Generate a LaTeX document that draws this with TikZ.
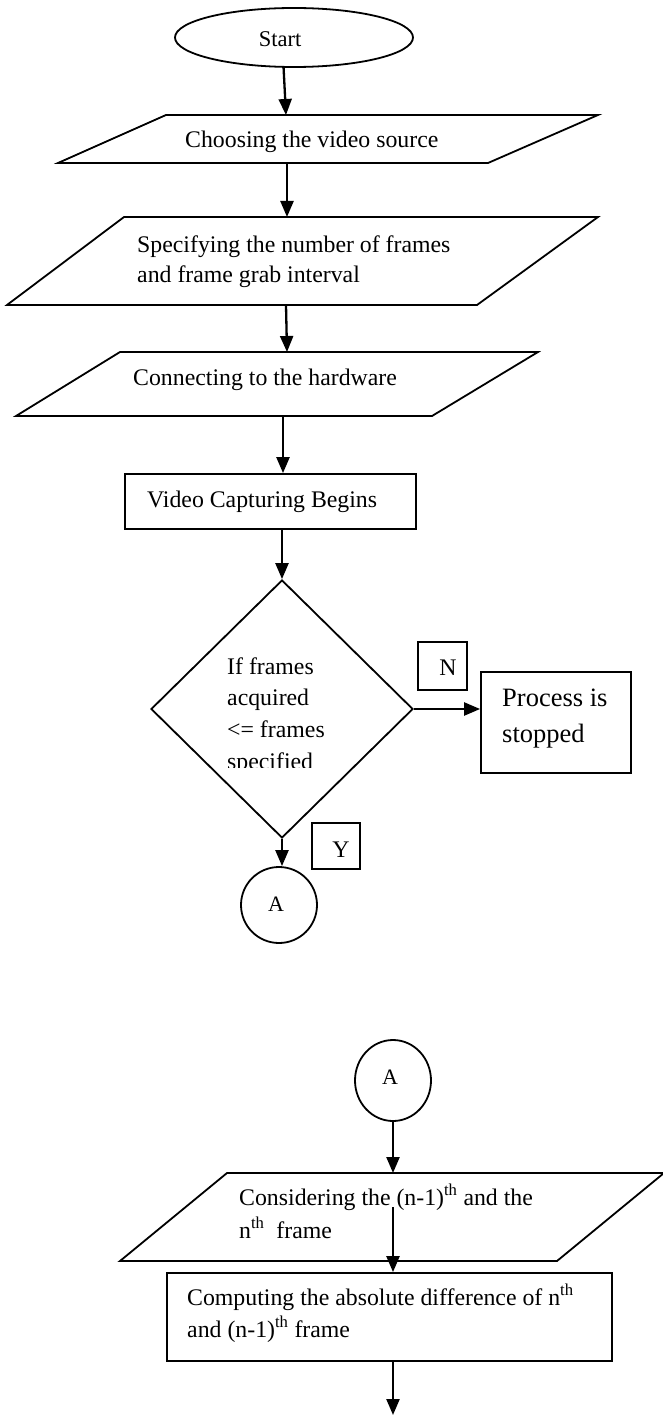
\documentclass[tikz,border=0pt]{standalone}
\usepackage{fontspec}
\setmainfont{Liberation Serif}
\usetikzlibrary{arrows.meta,shapes.geometric}
\begin{document}
\begin{tikzpicture}[x=1pt,y={(0pt,-1pt)},
  shp/.style={draw=black, line width=1.8pt, inner sep=0pt},
  arr/.style={draw=black, line width=2.3pt, -{Triangle[length=16pt,width=13pt]}},
  txt/.style={inner sep=0pt, anchor=base west, font=\fontsize{23.8}{30}\selectfont},
  bigtxt/.style={inner sep=0pt, anchor=base west, font=\fontsize{26.5}{33}\selectfont},
  ctxt/.style={inner sep=0pt, anchor=base, font=\fontsize{23.8}{30}\selectfont}]
\useasboundingbox (0,0) rectangle (663,1415);

% Start
\node[shp, ellipse, minimum width=238pt, minimum height=59pt] (start) at (294,37.5) {};
\node[ctxt, font=\fontsize{22.5}{26}\selectfont] (tstart) at (280,47) {Start};

% Choosing the video source
\draw[shp] (166,115) -- (598,115) -- (488,163) -- (58,163) -- cycle;
\coordinate (p1top) at (286,115);
\coordinate (p1bot) at (287,163);
\node[txt] (t1) at (185,148) {Choosing the video source};

% Specifying
\draw[shp] (124,217) -- (598,217) -- (477,305) -- (7,305) -- cycle;
\coordinate (p2top) at (287,217);
\coordinate (p2bot) at (286,305);
\node[txt] (t2a) at (137,252) {Specifying the number of frames};
\node[txt] (t2b) at (137,282) {and frame grab interval};

% Connecting
\draw[shp] (120,352) -- (538,352) -- (432,416) -- (16,416) -- cycle;
\coordinate (p3top) at (287,352);
\coordinate (p3bot) at (283,416);
\node[txt] (t3) at (133,385) {Connecting to the hardware};

% Video Capturing Begins
\node[shp, rectangle, minimum width=291pt, minimum height=55pt] (video) at (270.5,501.5) {};
\node[txt] (t4) at (147,507) {Video Capturing Begins};

% Decision
\node[shp, diamond, minimum width=262pt, minimum height=258pt] (dia) at (282,709) {};
\node[txt] (d1) at (227,674) {If frames};
\node[txt] (d2) at (227,705) {acquired};
\node[txt] (d3) at (227,737) {<= frames};
\begin{scope}
  \clip (200,740) rectangle (400,767);
  \node[txt] (d4) at (227,769) {specified};
\end{scope}

% N label and Process is stopped
\node[shp, rectangle, minimum width=49pt, minimum height=48pt] (nbox) at (442.5,666) {};
\node[ctxt] (tn) at (448,675) {N};
\node[shp, rectangle, minimum width=150pt, minimum height=101pt] (proc) at (556,722.5) {};
\node[bigtxt] (tp1) at (502,706) {Process is};
\node[bigtxt] (tp2) at (502,742) {stopped};

% Y label and connector A
\node[shp, rectangle, minimum width=48pt, minimum height=46pt] (ybox) at (336,846) {};
\node[ctxt] (ty) at (341,857) {Y};
\node[shp, ellipse, minimum width=76pt, minimum height=76pt] (a1) at (279,905) {};
\node[ctxt, font=\fontsize{22}{25}\selectfont] (ta1) at (276,911) {A};

% Second part
\node[shp, ellipse, minimum width=76pt, minimum height=81pt] (a2) at (393,1080.5) {};
\node[ctxt, font=\fontsize{22}{25}\selectfont] (ta2) at (390,1084) {A};

\draw[shp] (227,1173) -- (664,1173) -- (557,1261) -- (120,1261) -- cycle;
\coordinate (p4top) at (393,1173);
\coordinate (p4in) at (393,1207);
\node[txt] (t5a) at (239,1205) {Considering the (n-1)\textsuperscript{th} and the};
\node[txt] (t5b) at (239,1238) {n\textsuperscript{th}\ \ frame};

\node[shp, rectangle, minimum width=445pt, minimum height=88pt] (comp) at (389.5,1317) {};
\node[txt] (t6a) at (187,1305) {Computing the absolute difference of n\textsuperscript{th}};
\node[txt] (t6b) at (187,1337) {and (n-1)\textsuperscript{th} frame};
\coordinate (endpt) at (393,1415);

% Connectors
\draw[arr] (start.251) -- (p1top);
\draw[arr] (p1bot) -- (p2top);
\draw[arr] (p2bot) -- (p3top);
\draw[arr] (p3bot) -- (p3bot |- video.north);
\draw[arr] (video.south -| dia.north) -- (dia.north);
\draw[arr] (dia.east) -- (dia.east -| proc.west);
\draw[arr] (dia.south) -- (dia.south |- a1.north);
\draw[arr] (a2.south) -- (p4top);
\draw[arr] (p4in) -- (p4in |- comp.north);
\draw[arr] (comp.south -| endpt) -- (endpt);
\end{tikzpicture}
\end{document}
